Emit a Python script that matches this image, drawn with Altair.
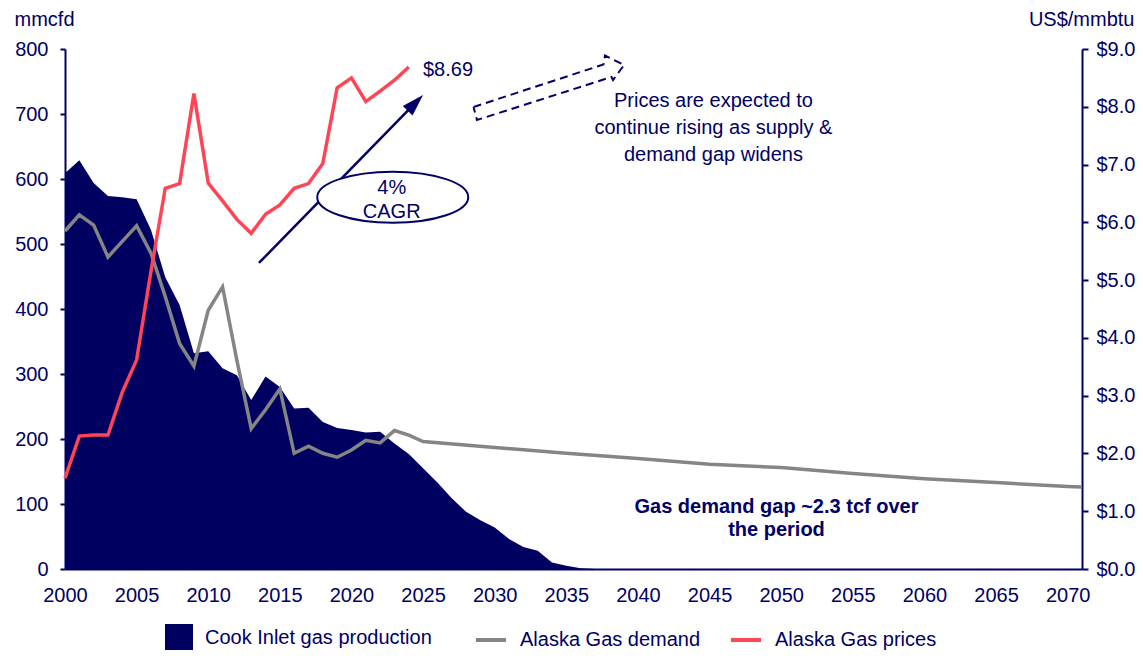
import altair as alt
import pandas as pd

NAVY = "#000066"
AREA = "#000060"
GRAY = "#858585"
RED = "#FF4455"
FONT = "Liberation Sans"

# ---- data ----
prod_years = list(range(2000, 2038))
production = [609, 629, 594, 574, 572, 569, 522, 449, 406, 332, 335, 309, 298, 260,
              296, 280, 247, 248, 226, 217, 214, 210, 211, 193, 177, 155, 133, 109,
              88, 75, 64, 46, 34, 28, 10, 5, 1, 0]

demand_years = list(range(2000, 2026)) + [2030, 2035, 2040, 2045, 2050, 2055, 2060, 2065, 2070, 2071]
demand = [520, 545, 529, 480, 504, 528, 486, 419, 347, 312, 398, 434, 321, 216, 245,
          277, 178, 189, 178, 172, 183, 198, 194, 213, 206, 196,
          187, 178, 170, 161, 156, 147, 139, 133, 127, 126]

price_years = list(range(2000, 2025))
prices = [1.57, 2.30, 2.32, 2.32, 3.06, 3.62, 5.15, 6.59, 6.67, 8.23, 6.68, 6.37, 6.05,
          5.81, 6.14, 6.30, 6.59, 6.67, 7.02, 8.33, 8.50, 8.09, 8.27, 8.46, 8.69]

x_ticks = list(range(2000, 2071, 5))
left_ticks = list(range(0, 801, 100))
right_ticks = list(range(0, 10))

series_names = ["Cook Inlet gas production", "Alaska Gas demand", "Alaska Gas prices"]

# annotations (in year / mmcfd units)
price_label = {"year": [2024.99], "value": [767.7], "text": ["$8.69"]}
note_lines = {"year": [2045.27] * 3, "value": [720.0, 678.5, 636.9],
              "text": ["Prices are expected to", "continue rising as supply &", "demand gap widens"]}
gap_lines = {"year": [2049.67] * 2, "value": [95.4, 60.0],
             "text": ["Gas demand gap ~2.3 tcf over", "the period"]}
cagr_lines = {"year": [2022.81] * 2, "value": [586.9, 550.0], "text": ["4%", "CAGR"]}
ellipse_center = {"year": [2022.88], "value": [572.0]}
arrow_line = {"year": [2013.54, 2024.46], "value": [470.8, 717.1]}
arrow_head = {"year": [2024.46], "value": [717.1]}
dashed_arrow = {"year": [2028.52, 2037.59, 2037.70, 2039.03, 2038.26, 2038.15, 2028.76, 2028.52],
                "value": [710.8, 776.2, 790.0, 775.4, 752.3, 756.9, 690.8, 710.8]}

# ---- tables ----
prod_df = pd.DataFrame({"year": prod_years, "value": production, "series": series_names[0]})
dem_df = pd.DataFrame({"year": demand_years, "value": demand, "series": series_names[1]})
price_df = pd.DataFrame({"year": price_years, "value": prices, "series": series_names[2]})
dash_df = pd.DataFrame(dashed_arrow)
dash_df["i"] = range(len(dash_df))

x_scale = alt.Scale(domain=[2000, 2071], nice=False, zero=False)
yl_scale = alt.Scale(domain=[0, 800], nice=False, zero=True)
yr_scale = alt.Scale(domain=[0, 9], nice=False, zero=True)

x_axis = alt.Axis(values=x_ticks, format="d", ticks=False, labelPadding=16,
                  grid=False, domainColor=NAVY, domainWidth=2, labelColor=NAVY,
                  labelFontSize=20, labelFont=FONT, title=None, labelFlush=False,
                  labelOverlap=False)
left_axis = alt.Axis(orient="left", values=left_ticks, tickSize=5, tickWidth=2, tickColor=NAVY,
                     domainColor=NAVY, domainWidth=2, labelPadding=12, labelColor=NAVY,
                     labelFontSize=20, labelFont=FONT, grid=False, title="mmcfd",
                     titleAngle=0, titleAlign="left", titleBaseline="alphabetic",
                     titleX=-51, titleY=-24, titleFontSize=20, titleFont=FONT,
                     titleColor=NAVY, titleFontWeight="normal")
right_axis = alt.Axis(orient="right", values=right_ticks, format="$.1f", tickSize=6, tickWidth=2,
                      tickColor=NAVY, domainColor=NAVY, domainWidth=2, labelPadding=8,
                      labelColor=NAVY, labelFontSize=20, labelFont=FONT, grid=False,
                      title="US$/mmbtu", titleAngle=0, titleAlign="right",
                      titleBaseline="alphabetic", titleX=52, titleY=-24, titleFontSize=20,
                      titleFont=FONT, titleColor=NAVY, titleFontWeight="normal")

fill_legend = alt.Legend(title=None, orient="none", legendX=100, legendY=575, direction="horizontal",
                         symbolType="square", symbolSize=784, symbolStrokeWidth=0,
                         labelFontSize=20, labelFont=FONT, labelColor=NAVY, labelOffset=12,
                         padding=0, labelLimit=400)
stroke_legend = alt.Legend(title=None, orient="none", legendX=409, legendY=574, direction="horizontal",
                           symbolType="stroke", symbolSize=900, symbolStrokeWidth=4,
                           labelFontSize=20, labelFont=FONT, labelColor=NAVY, labelOffset=12,
                           columnPadding=22, padding=0, labelLimit=400)
stroke_scale = alt.Scale(domain=series_names[1:], range=[GRAY, RED])


def X():
    # identical axis on every layer so the shared x axis merges (and stays enabled)
    return alt.X("year:Q", scale=x_scale, axis=x_axis)


def YL():
    return alt.Y("value:Q", scale=yl_scale, axis=None)


area = alt.Chart(prod_df).mark_area(opacity=1, interpolate="linear").encode(
    x=X(),
    y=alt.Y("value:Q", scale=yl_scale, axis=left_axis),
    fill=alt.Fill("series:N", scale=alt.Scale(domain=[series_names[0]], range=[AREA]),
                  legend=fill_legend),
)

dem_line = alt.Chart(dem_df).mark_line(strokeWidth=3.5).encode(
    x=X(), y=YL(),
    stroke=alt.Stroke("series:N", scale=stroke_scale, legend=stroke_legend),
)

price_line = alt.Chart(price_df).mark_line(strokeWidth=3.5).encode(
    x=X(),
    y=alt.Y("value:Q", scale=yr_scale, axis=right_axis),
    stroke=alt.Stroke("series:N", scale=stroke_scale, legend=stroke_legend),
)

arrow = alt.Chart(pd.DataFrame(arrow_line)).mark_line(color=NAVY, strokeWidth=2.5).encode(x=X(), y=YL())

HEAD = "M0,-1L0.62,1L-0.62,1Z"
head = alt.Chart(pd.DataFrame(arrow_head)).mark_point(
    shape=HEAD, size=484, angle=44.3, filled=True, color=NAVY, opacity=1
).encode(x=X(), y=YL())

k = 0.338
c = 0.5523
ELLIPSE = (f"M-1,0C-1,{-c*k:.4f} {-c:.4f},{-k} 0,{-k}C{c:.4f},{-k} 1,{-c*k:.4f} 1,0"
           f"C1,{c*k:.4f} {c:.4f},{k} 0,{k}C{-c:.4f},{k} -1,{c*k:.4f} -1,0Z")
ellipse = alt.Chart(pd.DataFrame(ellipse_center)).mark_point(
    shape=ELLIPSE, size=22801, filled=True, fill="white", stroke=NAVY, strokeWidth=2,
    opacity=1, fillOpacity=1, strokeOpacity=1
).encode(x=X(), y=YL())

cagr = alt.Chart(pd.DataFrame(cagr_lines)).mark_text(
    align="center", baseline="middle", fontSize=20, font=FONT, color=NAVY
).encode(x=X(), y=YL(), text="text:N")

dashed = alt.Chart(dash_df).mark_line(color=NAVY, strokeWidth=2, strokeDash=[8, 5]).encode(
    x=X(), y=YL(), order=alt.Order("i:Q"))

t_price = alt.Chart(pd.DataFrame(price_label)).mark_text(
    align="left", baseline="middle", fontSize=20, font=FONT, color=NAVY
).encode(x=X(), y=YL(), text="text:N")

t_note = alt.Chart(pd.DataFrame(note_lines)).mark_text(
    align="center", baseline="middle", fontSize=20, font=FONT, color=NAVY
).encode(x=X(), y=YL(), text="text:N")

t_gap = alt.Chart(pd.DataFrame(gap_lines)).mark_text(
    align="center", baseline="middle", fontSize=20, font=FONT, color=NAVY, fontWeight="bold"
).encode(x=X(), y=YL(), text="text:N")

chart = alt.layer(
    area, dem_line, price_line, arrow, head, ellipse, cagr, dashed, t_price, t_note, t_gap
).resolve_scale(y="independent").properties(
    width=1017, height=520,
    padding={"left": 57, "top": 41, "right": 53, "bottom": 81},
    autosize=alt.AutoSizeParams(type="none"),
    background="white",
).configure(font=FONT, view=alt.ViewConfig(stroke=None))

chart.save("out.html", embed_options={"renderer": "svg", "actions": False})
